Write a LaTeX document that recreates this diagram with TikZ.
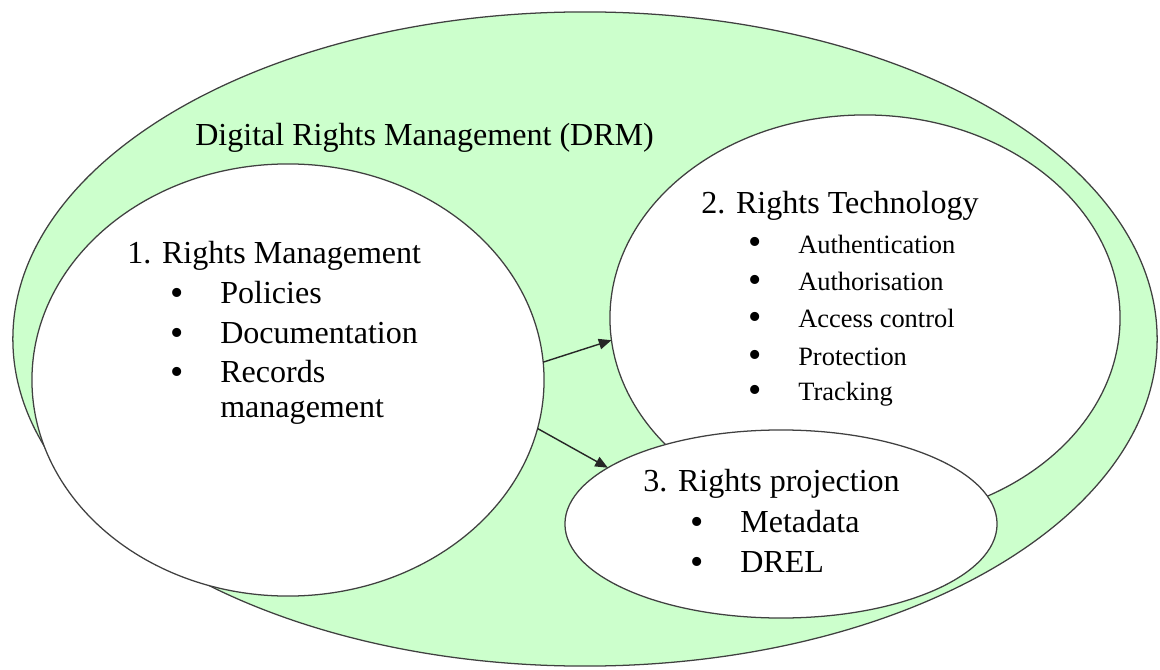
\documentclass[tikz,border=0pt]{standalone}
\usepackage{fontspec}
\setmainfont{Liberation Serif}
\usetikzlibrary{arrows.meta,shapes.geometric}
\definecolor{drmgreen}{RGB}{204,255,204}
\tikzset{
>={Triangle[length=9pt,width=7.5pt]},
oval/.style={ellipse,draw=black!75,line width=0.9pt,fill=white,inner sep=0pt,outer sep=0pt},
heading/.style={anchor=base west,inner sep=0pt,font=\fontsize{22.8}{27}\selectfont},
entry/.style={heading},
small entry/.style={anchor=base west,inner sep=0pt,font=\fontsize{18.8}{22}\selectfont},
bullet/.style={anchor=base,inner sep=0pt,font=\fontsize{27}{27}\selectfont},
link/.style={->,line width=1pt,black!85}}

\begin{document}
\begin{tikzpicture}[x=0.025cm,y=-0.025cm]
\useasboundingbox (0,0) rectangle (1160,670);

% the three areas inside DRM
\node[oval,fill=drmgreen,minimum width=28.6cm,minimum height=16.35cm] (drm) at (585,339) {};
\node[oval,minimum width=12.8cm,minimum height=10.8cm] (1) at (288,380) {};
\node[oval,minimum width=12.75cm,minimum height=10.15cm] (2) at (865,318) {};
\node[oval,minimum width=10.8cm,minimum height=4.7cm] (3) at (781,524) {};

\draw[link] (1.4) -- (2.185);
\draw[link] (1.-11) -- (3.162);

\node[heading] (t0) at (195,145) {Digital Rights Management (DRM)};

% 1. Rights Management
\node[heading] (t1) at (127,263) {1. Rights Management};
\node[bullet] (b1a) at (177,305) {•};
\node[bullet] (b1b) at (177,345) {•};
\node[bullet] (b1c) at (177,384) {•};
\node[entry] (e1a) at (220,303) {Policies};
\node[entry] (e1b) at (220,343) {Documentation};
\node[entry] (e1c) at (220,382) {Records};
\node[entry] (e1d) at (220,417) {management};

% 2. Rights Technology
\node[heading] (t2) at (701,213) {2. Rights Technology};
\node[bullet] (b2a) at (755,255) {•};
\node[bullet] (b2b) at (755,292) {•};
\node[bullet] (b2c) at (755,329) {•};
\node[bullet] (b2d) at (755,367) {•};
\node[bullet] (b2e) at (755,402) {•};
\node[small entry] (e2a) at (798,253) {Authentication};
\node[small entry] (e2b) at (798,290) {Authorisation};
\node[small entry] (e2c) at (798,327) {Access control};
\node[small entry] (e2d) at (798,365) {Protection};
\node[small entry] (e2e) at (798,400) {Tracking};

% 3. Rights projection
\node[heading] (t3) at (643,491) {3. Rights projection};
\node[bullet] (b3a) at (697,534) {•};
\node[bullet] (b3b) at (697,574) {•};
\node[entry] (e3a) at (740,532) {Metadata};
\node[entry] (e3b) at (740,572) {DREL};
\end{tikzpicture}
\end{document}
